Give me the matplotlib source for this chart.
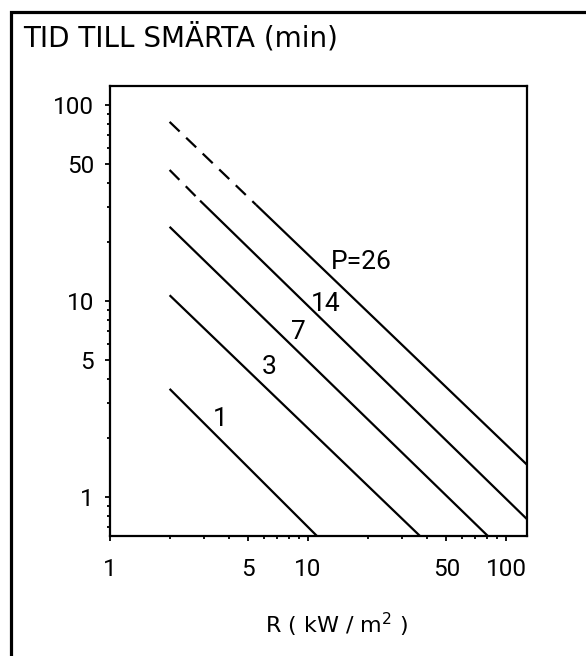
import matplotlib
matplotlib.use("Agg")
import matplotlib.pyplot as plt
from matplotlib import font_manager as fm
from matplotlib.patches import Rectangle
from matplotlib.ticker import FixedLocator, NullFormatter

# ---------------- data ----------------
P_values = [1, 3, 7, 14, 26]
line_labels = ["1", "3", "7", "14", "P=26"]
R_start = [2.0, 2.0, 2.0, 2.0, 2.0]
t_start = [3.56, 10.7, 23.9, 46.6, 82.0]
R_end = [11.1, 36.8, 81.0, 127.7, 127.7]
t_end = [0.632, 0.632, 0.632, 0.77, 1.46]
# dashed (extrapolated) part runs from the start to these points
R_dash_end = [None, None, None, 2.85, 5.46]
t_dash_end = [None, None, None, 32.5, 31.0]

x_ticks = [1, 5, 10, 50, 100]
x_tick_labels = ["1", "5", "10", "50", "100"]
y_ticks = [1, 5, 10, 50, 100]
y_tick_labels = ["1", "5", "10", "50", "100"]

title_text = "TID TILL SMÄRTA (min)"
xlabel_text = "R ( kW / m$^{2}$ )"

# label anchor positions (data coords)
label_R = [3.59, 6.35, 8.9, 12.3, 18.5]
label_t = [2.5, 4.6, 6.95, 9.66, 15.8]

# ---------------- fonts ----------------
def has_font(name):
    try:
        fm.findfont(fm.FontProperties(family=name), fallback_to_default=False)
        return True
    except Exception:
        return False

if has_font("Roboto"):
    NUM_FAMILY = ["Roboto", "DejaVu Sans"]
    NUM_SIZE = 17.5
    LBL_SIZE = 19
else:
    NUM_FAMILY = ["DejaVu Sans"]
    NUM_SIZE = 14.5
    LBL_SIZE = 16

W, H = 586, 656
fig = plt.figure(figsize=(W / 100, H / 100), dpi=100)
plt.rcParams["lines.scale_dashes"] = False

# axes placement in pixels
left_px, right_px, top_px, bottom_px = 110, 527, 86, 536
ax = fig.add_axes([left_px / W, 1 - bottom_px / H,
                   (right_px - left_px) / W, (bottom_px - top_px) / H])
ax.set_xscale("log")
ax.set_yscale("log")
ax.set_xlim(1, 127.7)
ax.set_ylim(0.632, 125)

lw = 1.6
for i, p in enumerate(P_values):
    if R_dash_end[i] is not None:
        ax.plot([R_start[i], R_dash_end[i]], [t_start[i], t_dash_end[i]],
                color="black", lw=lw, linestyle=(0, (10, 6.5)),
                solid_capstyle="butt", dash_capstyle="butt")
        ax.plot([R_dash_end[i], R_end[i]], [t_dash_end[i], t_end[i]],
                color="black", lw=lw, solid_capstyle="butt")
    else:
        ax.plot([R_start[i], R_end[i]], [t_start[i], t_end[i]],
                color="black", lw=lw, solid_capstyle="butt")
    ax.text(label_R[i], label_t[i], line_labels[i], ha="center", va="center",
            family=NUM_FAMILY, fontsize=LBL_SIZE, color="black")

# ticks
minor_x = [v * d for d in (1, 10, 100) for v in range(2, 10)
           if v * d <= 127.7 and v * d not in x_ticks]
minor_y = [v * d for d in (0.1, 1, 10, 100) for v in range(2, 10)
           if 0.632 <= v * d <= 125 and v * d not in y_ticks]
ax.xaxis.set_major_locator(FixedLocator(x_ticks))
ax.xaxis.set_minor_locator(FixedLocator(minor_x))
ax.yaxis.set_major_locator(FixedLocator(y_ticks))
ax.yaxis.set_minor_locator(FixedLocator(minor_y))
ax.set_xticklabels(x_tick_labels, family=NUM_FAMILY, fontsize=NUM_SIZE)
ax.set_yticklabels(y_tick_labels, family=NUM_FAMILY, fontsize=NUM_SIZE)
ax.xaxis.set_minor_formatter(NullFormatter())
ax.yaxis.set_minor_formatter(NullFormatter())
ax.tick_params(which="major", direction="out", length=3.5, width=1.3, color="black")
ax.tick_params(which="minor", direction="out", length=2.5, width=1.3, color="black")
ax.tick_params(axis="x", which="major", pad=12)
ax.tick_params(axis="y", which="major", pad=8)

for s in ax.spines.values():
    s.set_linewidth(1.6)
    s.set_color("black")

# titles
fig.text(23 / W, 1 - 38 / H, title_text, ha="left", va="center",
         family="DejaVu Sans", fontsize=20, color="black")
fig.text(337 / W, 1 - 625 / H, xlabel_text, ha="center", va="center",
         family="DejaVu Sans", fontsize=16, color="black")

# outer frame (extends beyond right and bottom edge)
fig.add_artist(Rectangle((11 / W, -0.1), 1.2, 1 - 12 / H + 0.1,
                         transform=fig.transFigure, fill=False,
                         lw=2.3, edgecolor="black"))

fig.savefig("out.png", dpi=100)
